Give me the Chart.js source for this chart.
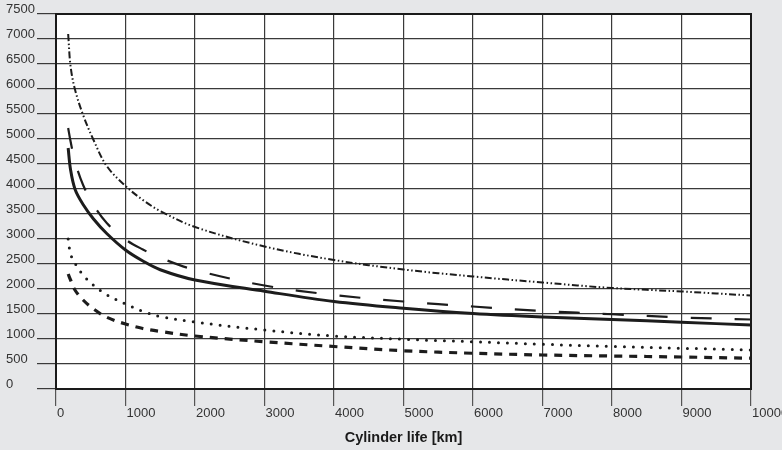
<!DOCTYPE html>
<html>
<head>
<meta charset="utf-8">
<script src="https://cdn.jsdelivr.net/npm/chart.js@4"></script>
<style>
    html, body { margin: 0; padding: 0; background: #e6e7e9; }
    #wrap { width: 782px; height: 450px; }
</style>
</head>
<body>
<div id="wrap"><canvas id="lifeChart" width="782" height="450"></canvas></div>
<script>
const kmValues = [175, 210, 275, 390, 540, 730, 1000, 1250, 1500, 2000, 3000, 4000, 5000, 6000, 7000, 8000, 9000, 10000];
const dashDotValues = [7100, 6450, 5980, 5480, 4980, 4460, 4060, 3780, 3560, 3240, 2850, 2580, 2390, 2250, 2130, 2020, 1950, 1870];
const longDashValues = [5220, 4950, 4540, 4080, 3680, 3320, 2990, 2790, 2625, 2380, 2070, 1880, 1750, 1650, 1560, 1495, 1430, 1390];
const solidValues = [4820, 4380, 3990, 3690, 3400, 3110, 2780, 2560, 2385, 2180, 1955, 1750, 1615, 1510, 1440, 1390, 1335, 1280];
const dottedValues = [3000, 2700, 2510, 2280, 2075, 1885, 1700, 1555, 1450, 1340, 1180, 1060, 995, 945, 895, 850, 815, 780];
const shortDashValues = [2300, 2180, 1975, 1780, 1600, 1435, 1300, 1210, 1150, 1060, 945, 850, 765, 715, 680, 660, 640, 615];

const xTitle = 'Cylinder life [km]';

function toPoints(values) {
    return kmValues.map(function (km, i) {
        return { x: km, y: values[i] };
    });
}

const plotBackground = {
    id: 'plotBackground',
    beforeDraw: function (chart) {
        const ctx = chart.ctx;
        const area = chart.chartArea;
        ctx.save();
        ctx.fillStyle = '#e6e7e9';
        ctx.fillRect(0, 0, chart.width, chart.height);
        ctx.fillStyle = '#ffffff';
        ctx.fillRect(area.left, area.top, area.right - area.left, area.bottom - area.top);
        ctx.restore();
    },
    afterDatasetsDraw: function (chart) {
        const ctx = chart.ctx;
        const area = chart.chartArea;
        ctx.save();
        ctx.strokeStyle = '#1a1a1a';
        ctx.lineWidth = 2;
        ctx.strokeRect(area.left, area.top, area.right - area.left, area.bottom - area.top);
        ctx.restore();
    }
};

const lineBase = {
    fill: false,
    pointRadius: 0,
    pointHoverRadius: 0,
    tension: 0.35,
    borderColor: '#1c1c1c'
};

const tickFont = { family: "'Liberation Sans', Arial, sans-serif", size: 13 };

new Chart(document.getElementById('lifeChart'), {
    type: 'line',
    data: {
        datasets: [
            Object.assign({}, lineBase, {
                label: 'dash-dot',
                data: toPoints(dashDotValues),
                borderWidth: 2,
                borderDash: [7, 2.5, 1.5, 2.5, 1.5, 2.5]
            }),
            Object.assign({}, lineBase, {
                label: 'long dash',
                data: toPoints(longDashValues),
                borderWidth: 2.2,
                borderDash: [21, 23]
            }),
            Object.assign({}, lineBase, {
                label: 'solid',
                data: toPoints(solidValues),
                borderWidth: 3
            }),
            Object.assign({}, lineBase, {
                label: 'dotted',
                data: toPoints(dottedValues),
                borderWidth: 3,
                borderDash: [0, 9],
                borderCapStyle: 'round'
            }),
            Object.assign({}, lineBase, {
                label: 'short dash',
                data: toPoints(shortDashValues),
                borderWidth: 3.2,
                borderDash: [8, 7]
            })
        ]
    },
    options: {
        responsive: false,
        animation: false,
        events: [],
        layout: {
            padding: { left: 6, right: 31, top: 14, bottom: 0 }
        },
        plugins: {
            legend: { display: false },
            tooltip: { enabled: false }
        },
        scales: {
            x: {
                type: 'linear',
                min: 0,
                max: 10000,
                afterFit: function (scale) {
                    scale.height = 61;
                    scale.paddingLeft = 0;
                    scale.paddingRight = 0;
                },
                border: { display: false },
                grid: {
                    color: '#3a3a3a',
                    lineWidth: 1.2,
                    tickLength: 17,
                    tickColor: '#555555'
                },
                ticks: {
                    stepSize: 1000,
                    autoSkip: false,
                    maxRotation: 0,
                    align: 'start',
                    labelOffset: 1,
                    padding: 0,
                    color: '#333333',
                    font: tickFont,
                    callback: function (value) { return String(value); }
                },
                title: {
                    display: true,
                    text: xTitle,
                    color: '#1a1a1a',
                    font: { family: "'Liberation Sans', Arial, sans-serif", size: 14.5, weight: 'bold' },
                    padding: { top: 0, bottom: 3 }
                }
            },
            y: {
                min: 0,
                max: 7500,
                afterFit: function (scale) {
                    scale.width = 50;
                    scale.paddingTop = 0;
                    scale.paddingBottom = 0;
                },
                border: { display: false },
                grid: {
                    color: '#3a3a3a',
                    lineWidth: 1.2,
                    tickLength: 19,
                    tickColor: '#3a3a3a'
                },
                ticks: {
                    stepSize: 500,
                    autoSkip: false,
                    crossAlign: 'far',
                    labelOffset: -5,
                    color: '#333333',
                    font: tickFont,
                    callback: function (value) { return String(value); }
                }
            }
        }
    },
    plugins: [plotBackground]
});
</script>
</body>
</html>
